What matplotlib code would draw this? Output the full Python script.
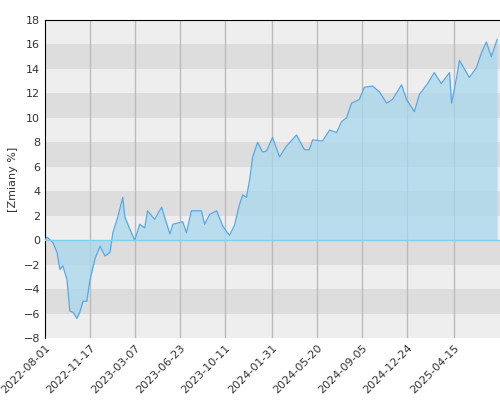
import numpy as np
import matplotlib
matplotlib.use("Agg")
import matplotlib.pyplot as plt
import matplotlib.dates as mdates

start = np.datetime64("2022-08-01")
day_offsets = [0, 5, 19, 29, 36, 43, 53, 60, 68, 77, 84, 92, 101, 109, 121, 133, 145, 157, 164, 176,
               188, 193, 205, 217, 229, 241, 248, 265, 282, 289, 302, 309, 333, 342, 354, 378, 386,
               398, 415, 429, 439, 446, 458, 470, 478, 487, 495, 502, 514, 526, 536, 550, 567, 584,
               608, 627, 639, 647, 671, 688, 705, 717, 729, 741, 760, 772, 792, 809, 826, 840, 862,
               874, 893, 905, 925, 941, 958, 978, 983, 995, 1002, 1026, 1043, 1055, 1067, 1079, 1093]
values = [0.0, 0.25, -0.2, -1, -2.4, -2.1, -3.2, -5.8, -5.9, -6.4, -5.9, -5, -5, -3.2, -1.5, -0.5,
          -1.3, -1, 0.6, 1.9, 3.5, 1.9, 0.9, 0, 1.3, 1.0, 2.4, 1.7, 2.7, 1.9, 0.5, 1.3, 1.5, 0.6,
          2.4, 2.4, 1.3, 2.1, 2.4, 1.2, 0.7, 0.4, 1.2, 2.9, 3.7, 3.5, 5.0, 6.8, 8.0, 7.2, 7.3,
          8.4, 6.8, 7.7, 8.6, 7.4, 7.4, 8.2, 8.1, 9.0, 8.8, 9.7, 10, 11.2, 11.5, 12.5, 12.6,
          12.1, 11.2, 11.5, 12.7, 11.5, 10.5, 11.9, 12.8, 13.7, 12.8, 13.7, 11.2, 13.3, 14.7,
          13.3, 14.1, 15.3, 16.2, 15.0, 16.4]
tick_dates = ["2022-08-01", "2022-11-17", "2023-03-07", "2023-06-23", "2023-10-11",
              "2024-01-31", "2024-05-20", "2024-09-05", "2024-12-24", "2025-04-15"]

n = min(len(day_offsets), len(values))
dates = (start + np.array(day_offsets[:n])).astype("datetime64[D]").astype("O")
vals = np.array(values[:n])

fig = plt.figure(figsize=(5, 4), dpi=100)
ax = fig.add_axes([0.09, 0.155, 0.91, 0.795])
ax.set_facecolor("#eeeeee")
for lo in range(-8, 18, 4):
    ax.axhspan(lo + 2, lo + 4, color="#dddddd", zorder=0, lw=0)
for d in tick_dates[1:]:
    ax.axvline(np.datetime64(d).astype("O"), color="#bbbbbb", lw=1, zorder=1)

ax.fill_between(dates, vals, 0, color="#a8d8ec", alpha=0.75, zorder=2, lw=0)
ax.plot(dates, vals, color="#55a8ee", lw=0.9, zorder=3)
ax.axhline(0, color="#7fd0ee", lw=1, zorder=3)

ax.set_xlim(np.datetime64("2022-08-01").astype("O"), np.datetime64("2025-08-05").astype("O"))
ax.set_ylim(-8, 18)
ax.set_yticks(range(-8, 19, 2))
ax.set_xticks([np.datetime64(d).astype("O") for d in tick_dates])
ax.set_xticklabels(tick_dates, rotation=45, ha="right", rotation_mode="anchor")
ax.tick_params(labelsize=8, length=0, colors="#333333")
ax.set_ylabel("[Zmiany %]", fontsize=8, color="#333333")
for s in ["right", "bottom"]:
    ax.spines[s].set_visible(False)
ax.spines["left"].set_color("black")
ax.spines["top"].set_color("black")

fig.savefig("out.png", dpi=100)
